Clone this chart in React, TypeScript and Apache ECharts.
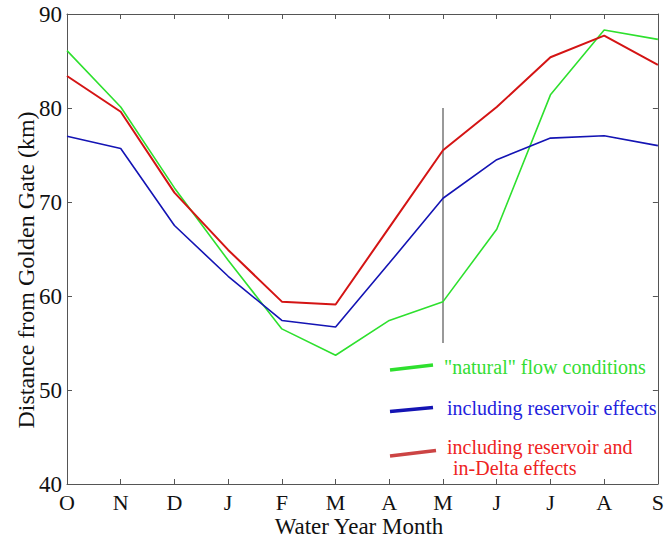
import React, { useEffect, useRef } from "react";
import * as echarts from "echarts";

const months = ["O", "N", "D", "J", "F", "M", "A", "M", "J", "J", "A", "S"];
const yTicks = [40, 50, 60, 70, 80, 90];
const natural = [86.1, 80.1, 71.5, 63.8, 56.5, 53.7, 57.4, 59.4, 67.1, 81.4, 88.3, 87.3];
const reservoir = [77.0, 75.7, 67.5, 62.1, 57.4, 56.7, 63.5, 70.4, 74.5, 76.8, 77.05, 76.0];
const reservoirDelta = [83.4, 79.6, 71.0, 64.9, 59.4, 59.1, 67.3, 75.5, 80.1, 85.4, 87.7, 84.6];
const markerLine = [
  [7, 80],
  [7, 55],
];
const legendLabels = [
  '"natural" flow conditions',
  "including reservoir effects",
  "including reservoir and",
  " in-Delta effects",
];

const GREEN = "#2ee02e";
const BLUE = "#1414b4";
const RED = "#d41414";
const FONT = "Liberation Serif";

export default function App() {
  const ref = useRef<HTMLDivElement>(null);
  useEffect(() => {
    if (!ref.current) return;
    const chart = echarts.init(ref.current, undefined, { renderer: "svg" });
    const axisLine = { show: true, lineStyle: { color: "#555", width: 1 } };
    const tickInside = { show: true, inside: true, length: 5, lineStyle: { color: "#555" } };
    chart.setOption({
      animation: false,
      backgroundColor: "#fff",
      grid: { left: 67, top: 14, right: 5, bottom: 55, containLabel: false },
      xAxis: [
        {
          type: "category",
          data: months,
          boundaryGap: false,
          axisLine,
          axisTick: { ...tickInside, alignWithLabel: true },
          axisLabel: { color: "#111", fontFamily: FONT, fontSize: 22, margin: 7, interval: 0 },
          splitLine: { show: false },
        },
        {
          type: "category",
          data: months,
          position: "top",
          boundaryGap: false,
          axisLine,
          axisTick: tickInside,
          axisLabel: { show: false },
        },
      ],
      yAxis: [
        {
          type: "value",
          min: 40,
          max: 90,
          interval: 10,
          axisLine,
          axisTick: tickInside,
          axisLabel: {
            color: "#111",
            fontFamily: FONT,
            fontSize: 23,
            margin: 5,
            formatter: (v: number) => (yTicks.includes(v) ? String(v) : ""),
          },
          splitLine: { show: false },
        },
        {
          type: "value",
          min: 40,
          max: 90,
          interval: 10,
          position: "right",
          axisLine,
          axisTick: tickInside,
          axisLabel: { show: false },
          splitLine: { show: false },
        },
      ],
      series: [
        {
          type: "line",
          data: markerLine,
          symbol: "none",
          lineStyle: { color: "#999", width: 2 },
          silent: true,
        },
        {
          name: "natural",
          type: "line",
          data: natural,
          symbol: "none",
          lineStyle: { color: GREEN, width: 1.6 },
        },
        {
          name: "reservoir",
          type: "line",
          data: reservoir,
          symbol: "none",
          lineStyle: { color: BLUE, width: 1.6 },
        },
        {
          name: "reservoirDelta",
          type: "line",
          data: reservoirDelta,
          symbol: "none",
          lineStyle: { color: RED, width: 2 },
        },
      ],
      graphic: [
        {
          type: "text",
          x: 26,
          y: 270,
          rotation: Math.PI / 2,
          style: {
            text: "Distance from Golden Gate (km)",
            fontFamily: FONT,
            fontSize: 24,
            fill: "#111",
            align: "center",
            verticalAlign: "middle",
          },
        },
        {
          type: "text",
          x: 359,
          y: 526,
          style: {
            text: "Water Year Month",
            fontFamily: FONT,
            fontSize: 23,
            fill: "#111",
            align: "center",
            verticalAlign: "middle",
          },
        },
        { type: "line", shape: { x1: 390, y1: 370, x2: 433, y2: 365 }, style: { stroke: GREEN, lineWidth: 3.5 } },
        { type: "line", shape: { x1: 390, y1: 411.5, x2: 433, y2: 407.5 }, style: { stroke: BLUE, lineWidth: 3.5 } },
        { type: "line", shape: { x1: 390, y1: 456, x2: 436, y2: 450.5 }, style: { stroke: "#cc4444", lineWidth: 3.5 } },
        {
          type: "text",
          x: 444,
          y: 367,
          style: { text: legendLabels[0], fontFamily: FONT, fontSize: 20, fill: "#33dd33", verticalAlign: "middle" },
        },
        {
          type: "text",
          x: 447,
          y: 407.5,
          style: { text: legendLabels[1], fontFamily: FONT, fontSize: 20, fill: "#2222dd", verticalAlign: "middle" },
        },
        {
          type: "text",
          x: 447,
          y: 447,
          style: { text: legendLabels[2], fontFamily: FONT, fontSize: 20, fill: "#ee2222", verticalAlign: "middle" },
        },
        {
          type: "text",
          x: 448,
          y: 468,
          style: { text: legendLabels[3], fontFamily: FONT, fontSize: 20, fill: "#ee2222", verticalAlign: "middle" },
        },
      ],
    });
    return () => chart.dispose();
  }, []);
  return <div ref={ref} style={{ width: 667, height: 539, position: "absolute", left: 0, top: 0 }} />;
}
